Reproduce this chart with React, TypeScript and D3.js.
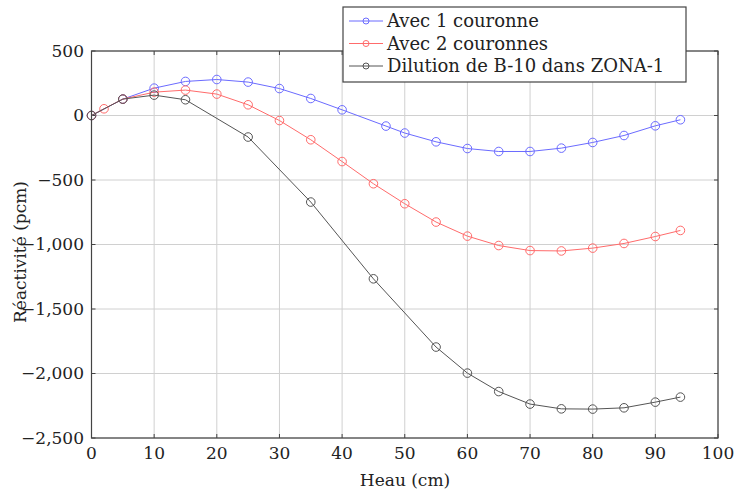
import React from "react";
import * as d3 from "d3";

const xBlue = [0, 5, 10, 15, 20, 25, 30, 35, 40, 47, 50, 55, 60, 65, 70, 75, 80, 85, 90, 94];
const yBlue = [0, 127, 212, 264, 279, 259, 209, 132, 44, -82, -136, -204, -256, -279, -279, -253, -209, -155, -80, -33];

const xRed = [0, 2, 5, 10, 15, 20, 25, 30, 35, 40, 45, 50, 55, 60, 65, 70, 75, 80, 85, 90, 94];
const yRed = [0, 52, 127, 181, 197, 166, 83, -39, -188, -357, -529, -684, -826, -935, -1008, -1047, -1050, -1028, -992, -938, -891];

const xBlack = [0, 5, 10, 15, 25, 35, 45, 55, 60, 65, 70, 75, 80, 85, 90, 94];
const yBlack = [0, 127, 158, 122, -167, -671, -1266, -1795, -1997, -2140, -2237, -2274, -2276, -2266, -2222, -2183];

const xTicks = [0, 10, 20, 30, 40, 50, 60, 70, 80, 90, 100];
const yTicks = [500, 0, -500, -1000, -1500, -2000, -2500];

const seriesNames = ["Avec 1 couronne", "Avec 2 couronnes", "Dilution de B-10 dans ZONA-1"];
const seriesColors = ["#6b6bff", "#ff6b6b", "#555555"];

const W = 737;
const H = 493;
const FONT = "'DejaVu Serif', serif";
const TS: React.CSSProperties = { fontFamily: FONT };

export default function App() {
  const left = 91.5, right = 718, top = 51, bottom = 438;
  const x = d3.scaleLinear().domain([0, 100]).range([left, right]);
  const y = d3.scaleLinear().domain([-2500, 500]).range([bottom, top]);
  const fmt = (v: number) => d3.format(",")(v).replace("-", "\u2212");
  const line = d3.line<[number, number]>().x(d => x(d[0])).y(d => y(d[1]));

  const series = [
    { xs: xBlue, ys: yBlue },
    { xs: xRed, ys: yRed },
    { xs: xBlack, ys: yBlack },
  ].map((s, i) => ({
    pts: s.xs.map((xv, j) => [xv, s.ys[j]] as [number, number]),
    color: seriesColors[i],
    name: seriesNames[i],
  }));

  const legX = 343, legY = 7, legW = 343, legH = 75;

  return (
    <svg width={W} height={H} style={{ position: "absolute", left: 0, top: 0, background: "#fff" }}>
      <rect x={0} y={0} width={W} height={H} fill="#fff" />
      {xTicks.map(t => (
        <line key={"gx" + t} x1={x(t)} x2={x(t)} y1={top} y2={bottom} stroke="#d0d0d0" strokeWidth={1} />
      ))}
      {yTicks.map(t => (
        <line key={"gy" + t} x1={left} x2={right} y1={y(t)} y2={y(t)} stroke="#d0d0d0" strokeWidth={1} />
      ))}
      {xTicks.map(t => (
        <g key={"tx" + t}>
          <line x1={x(t)} x2={x(t)} y1={bottom} y2={bottom - 4} stroke="#444" />
          <line x1={x(t)} x2={x(t)} y1={top} y2={top + 4} stroke="#444" />
        </g>
      ))}
      {yTicks.map(t => (
        <g key={"ty" + t}>
          <line x1={left} x2={left + 4} y1={y(t)} y2={y(t)} stroke="#444" />
          <line x1={right} x2={right - 4} y1={y(t)} y2={y(t)} stroke="#444" />
        </g>
      ))}
      {series.map((s, i) => (
        <g key={"s" + i}>
          <path d={line(s.pts) || ""} fill="none" stroke={s.color} strokeWidth={1} />
          {s.pts.map((p, j) => (
            <circle key={j} cx={x(p[0])} cy={y(p[1])} r={4.3} fill="none" stroke={s.color} strokeWidth={1} />
          ))}
        </g>
      ))}
      <rect x={left} y={top} width={right - left} height={bottom - top} fill="none" stroke="#444" strokeWidth={1.2} />
      {xTicks.map(t => (
        <text key={"lx" + t} x={x(t)} y={459} textAnchor="middle" fontSize={17} fill="#222" style={TS}>{t}</text>
      ))}
      {yTicks.map(t => (
        <text key={"ly" + t} x={84} y={y(t)} dy="0.35em" textAnchor="end" fontSize={17} fill="#222" style={TS}>{fmt(t)}</text>
      ))}
      <text x={405} y={486} textAnchor="middle" fontSize={17} fill="#222" style={TS}>Heau (cm)</text>
      <text transform={`translate(26,252) rotate(-90)`} textAnchor="middle" fontSize={17} fill="#222" style={TS}>Réactivité (pcm)</text>
      <rect x={legX} y={legY} width={legW} height={legH} fill="#fff" stroke="#444" strokeWidth={1.2} />
      {series.map((s, i) => {
        const cy = 21 + i * 22.5;
        return (
          <g key={"lg" + i}>
            <line x1={legX + 6} x2={legX + 40} y1={cy} y2={cy} stroke={s.color} strokeWidth={1} />
            <circle cx={legX + 23} cy={cy} r={3} fill="none" stroke={s.color} strokeWidth={1} />
            <text x={387} y={cy} dy="0.35em" fontSize={18} fill="#222" style={TS}>{s.name}</text>
          </g>
        );
      })}
    </svg>
  );
}
